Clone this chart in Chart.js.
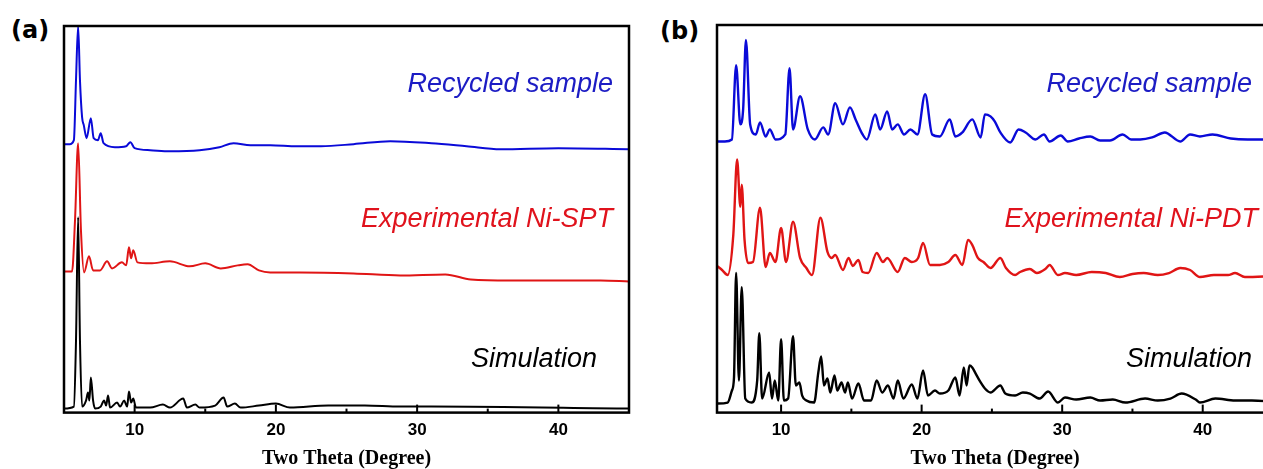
<!DOCTYPE html>
<html lang="en">
<head>
    <meta charset="UTF-8">
    <script src="https://cdn.jsdelivr.net/npm/chart.js"></script>
    <style>
        body { margin: 0; width: 1263px; height: 469px; overflow: hidden; position: relative; background: #fff; }
        .wrap { position: absolute; top: 0; height: 469px; width: 640px; }
        .lbl { position: absolute; font-family: "Liberation Sans", Arial, sans-serif; font-style: italic; font-size: 27px; line-height: 30px; white-space: nowrap; }
        .panel { position: absolute; font-family: "DejaVu Sans", sans-serif; font-weight: bold; font-size: 24px; line-height: 30px; }
    </style>
    <title>PXRD Ni-SPT / Ni-PDT</title>
</head>
<body>
    <div class="panel" style="left:11px;top:15px">(a)</div>
    <div class="panel" style="left:660px;top:16px">(b)</div>
    <div class="wrap" style="left:0"><canvas id="chartA"></canvas></div>
    <div class="wrap" style="left:640px"><canvas id="chartB"></canvas></div>
    <div class="lbl" style="right:650px;top:68px;color:#1c1cc4">Recycled sample</div>
    <div class="lbl" style="right:650px;top:203px;color:#e0121c">Experimental Ni-SPT</div>
    <div class="lbl" style="right:666px;top:343px;color:#000">Simulation</div>
    <div class="lbl" style="right:11px;top:68px;color:#1c1cc4">Recycled sample</div>
    <div class="lbl" style="right:5px;top:203px;color:#e0121c">Experimental Ni-PDT</div>
    <div class="lbl" style="right:11px;top:343px;color:#000">Simulation</div>
<script>
// tick marks on the 2-theta axis
var majorTicks = [10, 20, 30, 40];
var minorTicks = [15, 25, 35];

// (a) Ni-SPT, intensities in a.u. (stacked as drawn)
var aRecTheta = [5.0,5.4,5.7,5.85,6.0,6.13,6.28,6.4,6.6,6.9,7.1,7.4,7.6,7.8,8.6,9.4,9.7,10.0,11.1,12.5,14.6,16.0,17.0,18.2,19.6,21.5,23.2,25.5,28.1,31.0,33.5,35.9,40.0,45.0];
var aRecI     = [268,268,272,332,386,332,295,287,274,294,274,272,279,269,265,266,270,264,262,261,262,265,269,267,267,266,266,268,271,269,266,263,264,263];

var aExpTheta = [5.0,5.57,5.78,6.0,6.2,6.42,6.77,7.06,7.55,8.05,8.4,9.1,9.4,9.6,9.75,9.9,10.2,11.1,12.5,13.9,15.0,16.1,17.3,18.0,18.8,19.6,21.7,25.5,28.8,32.0,33.8,36.6,43.0,45.0];
var aExpI     = [141,141,192,269,182,140,156,142,142,151,144,150,147,165,154,162,150,149,151,146,149,144,147,148,142,140,140,139,137,138,133,132,132,131];

var aSimTheta = [5.0,5.7,5.85,6.0,6.13,6.28,6.56,6.7,6.8,6.9,7.06,7.2,7.6,7.84,7.98,8.12,8.26,8.76,8.97,9.26,9.47,9.6,9.75,9.9,10.1,11.1,12.0,12.5,13.44,13.7,14.3,14.6,15.7,16.3,16.55,17.1,17.5,18.8,20.0,21.0,23.7,26.3,28.8,31.0,45.0];
var aSimI     = [4,6,72,195,72,6,12,20,12,35,12,4,6,12,7,17,5,10,6,12,6,21,10,14,5,5,8,5,14,5,8,5,7,15,6,9,5,7,9,5,7,7,6,6,4];

// (b) Ni-PDT
var bRecTheta = [5.44,6.0,6.5,6.8,7.1,7.3,7.5,7.8,8.2,8.5,8.9,9.2,9.6,10.3,10.6,10.85,11.35,11.9,12.4,13.0,13.35,13.85,14.4,14.9,15.3,15.8,16.1,16.7,17.05,17.55,17.9,18.3,18.75,19.2,19.7,20.25,20.75,21.3,22.0,22.4,22.9,23.6,24.2,24.5,24.9,
                 25.2,25.6,26.3,26.9,27.4,28.1,28.7,29.1,29.9,30.4,31.2,32.0,32.7,33.4,34.3,34.9,35.55,36.4,37.3,38.4,39.1,39.8,40.7,42.0,43.2,45.0];
var bRecI     = [270,270,272,346,287,302,371,287,277,289,275,282,272,277,343,282,315,282,272,284,277,308,287,304,292,277,272,297,282,300,282,287,277,282,277,317,277,275,292,275,279,292,274,297,295,
                 290,279,269,282,279,272,277,270,276,270,273,275,271,271,277,272,272,274,279,270,277,275,277,273,272,272];

var bExpTheta = [5.44,5.8,6.2,6.6,6.87,7.1,7.2,7.4,7.65,8.0,8.5,8.9,9.2,9.6,10.0,10.35,10.85,11.35,11.8,12.2,12.8,13.3,13.6,13.85,14.4,14.8,15.1,15.5,15.8,16.2,16.8,17.25,17.55,18.3,18.8,19.3,19.75,20.1,20.6,21.3,21.9,22.4,22.9,23.3,23.6,24.0,24.4,24.9,
                 25.6,26.0,26.65,27.0,27.7,28.2,28.8,29.1,29.7,30.2,31.0,32.1,33.1,34.1,35.0,35.8,36.8,37.6,38.4,39.1,39.8,40.8,41.8,42.3,43.0,45.0];
var bExpI     = [146,142,137,177,252,205,227,172,149,150,204,145,159,150,184,150,190,154,144,137,194,160,154,157,142,154,146,152,140,139,159,150,154,140,154,150,154,169,147,147,150,157,147,172,167,154,150,144,
                 154,144,137,140,143,139,143,147,137,139,137,140,139,135,138,139,137,139,144,142,135,137,137,139,135,136];

var bSimTheta = [5.44,6.2,6.5,6.65,6.8,7.0,7.2,7.45,7.9,8.3,8.45,8.65,9.15,9.35,9.55,9.8,10.0,10.2,10.5,10.85,11.05,11.3,11.5,11.8,12.35,12.65,12.85,13.05,13.3,13.5,13.8,14.0,14.3,14.55,14.75,15.05,15.5,15.9,16.4,16.8,17.2,17.6,18.0,18.3,18.7,19.3,19.7,20.1,20.45,20.95,21.3,21.9,22.4,22.7,23.0,23.2,23.4,23.6,23.8,24.2,
                 24.5,24.9,25.6,25.95,26.65,27.2,27.7,28.4,29.0,29.7,30.2,31.0,32.0,32.7,33.6,34.5,35.9,36.8,37.7,38.5,39.5,39.8,40.9,42.3,43.5,45.0];
var bSimI     = [9,10,22,35,139,32,125,14,10,32,79,14,40,14,32,12,73,12,14,76,27,30,17,12,10,40,56,27,34,20,37,22,30,20,30,14,29,12,12,32,20,27,14,32,14,28,14,42,17,22,19,22,35,17,45,27,47,45,40,30,
                 24,20,27,19,17,20,19,14,21,10,15,13,15,12,13,10,14,12,14,19,13,10,14,12,12,11];

var BLUE = '#0a0ad8', RED = '#e01515', BLACK = '#000000';

function pts(xs, ys) {
    return xs.map(function (x, i) { return { x: x, y: ys[i] }; });
}

// box frame + inward ticks
var framePlugin = {
    id: 'frame',
    afterDraw: function (chart) {
        var a = chart.chartArea, ctx = chart.ctx, sx = chart.scales.x;
        ctx.save();
        ctx.strokeStyle = '#000';
        ctx.lineWidth = 2.5;
        ctx.strokeRect(a.left, a.top, a.right - a.left, a.bottom - a.top);
        ctx.lineWidth = 2;
        majorTicks.forEach(function (v) {
            var px = sx.getPixelForValue(v);
            ctx.beginPath(); ctx.moveTo(px, a.bottom); ctx.lineTo(px, a.bottom - 8); ctx.stroke();
        });
        minorTicks.forEach(function (v) {
            var px = sx.getPixelForValue(v);
            ctx.beginPath(); ctx.moveTo(px, a.bottom); ctx.lineTo(px, a.bottom - 4); ctx.stroke();
        });
        ctx.restore();
    }
};

function makeChart(id, sets, xmin, pad, lw) {
    var ds = sets.map(function (s) {
        return { data: pts(s[0], s[1]), borderColor: s[2], borderWidth: lw, pointRadius: 0,
                 cubicInterpolationMode: 'monotone', fill: false };
    });
    return new Chart(document.getElementById(id), {
        type: 'line',
        data: { datasets: ds },
        options: {
            responsive: true,
            maintainAspectRatio: false,
            animation: false,
            layout: { padding: pad },
            plugins: { legend: { display: false }, tooltip: { enabled: false } },
            scales: {
                x: {
                    type: 'linear', min: xmin, max: 45,
                    grid: { display: false, drawTicks: false },
                    border: { display: false },
                    afterBuildTicks: function (s) { s.ticks = majorTicks.map(function (v) { return { value: v }; }); },
                    ticks: { padding: 8, color: '#000', font: { family: 'Liberation Sans, Arial', size: 17, weight: 'bold' } },
                    title: { display: true, text: 'Two Theta (Degree)', color: '#000', padding: { top: 0, bottom: 0 },
                             font: { family: 'Liberation Serif, Times New Roman', size: 20, weight: 'bold', lineHeight: 1.0 } }
                },
                y: { display: false, min: 0, max: 386 }
            }
        },
        plugins: [framePlugin]
    });
}

makeChart('chartA', [
    [aRecTheta, aRecI, BLUE],
    [aExpTheta, aExpI, RED],
    [aSimTheta, aSimI, BLACK]
], 5, { left: 64, right: 11, top: 26, bottom: 0 }, 2);

makeChart('chartB', [
    [bRecTheta, bRecI, BLUE],
    [bExpTheta, bExpI, RED],
    [bSimTheta, bSimI, BLACK]
], 5.44, { left: 77, right: 7, top: 25, bottom: 0 }, 2.4);
</script>
</body>
</html>
